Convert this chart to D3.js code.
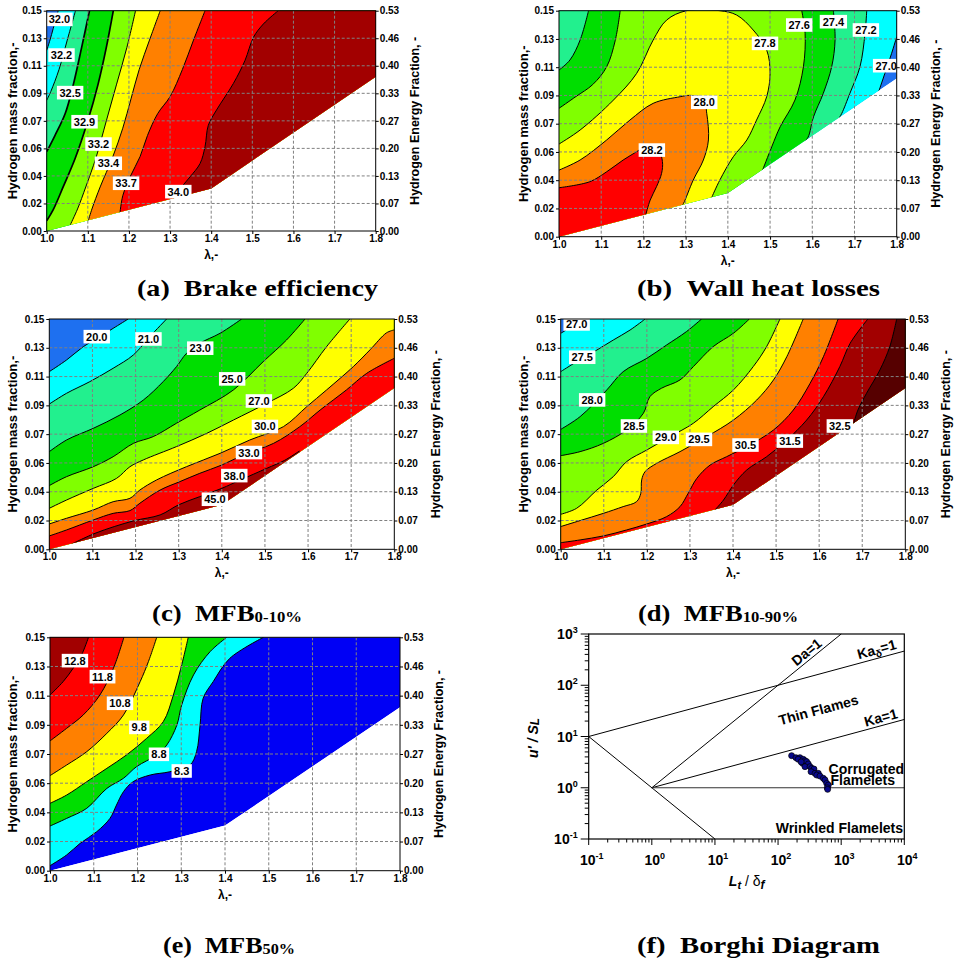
<!DOCTYPE html>
<html>
<head>
<meta charset="utf-8">
<script src="https://cdn.jsdelivr.net/npm/d3@7"></script>
<style>
  body { margin: 0; background: #fff; }
  svg { display: block; }
</style>
</head>
<body>
<svg id="fig" width="954" height="965" font-family='"Liberation Sans", Arial, sans-serif'></svg>
<script>
// ---- shared axis data ----
const lambdaTicks = [1.0, 1.1, 1.2, 1.3, 1.4, 1.5, 1.6, 1.7, 1.8];
const massTickLabels = ['0.00', '0.02', '0.04', '0.06', '0.07', '0.09', '0.11', '0.13', '0.15'];
const energyTickLabels = ['0.00', '0.07', '0.13', '0.20', '0.27', '0.33', '0.40', '0.46', '0.53'];
const lowerEdge = [[1.0, 0.0], [1.4, 0.029], [1.8, 0.105]];

// ---- (a) brake efficiency ----
const effLevels = [32.0, 32.2, 32.5, 32.9, 33.2, 33.4, 33.7, 34.0];
const effLines = [
  [[[1.028, 0.15], [1.016, 0.138], [1.008, 0.13], [1.0, 0.123]]],
  [[[1.07, 0.15], [1.05, 0.13], [1.03, 0.11], [1.01, 0.095], [1.0, 0.089]]],
  [[[1.104, 0.15], [1.085, 0.125], [1.065, 0.10], [1.045, 0.08], [1.02, 0.065], [1.0, 0.054]]],
  [[[1.162, 0.15], [1.145, 0.125], [1.125, 0.10], [1.1, 0.075], [1.07, 0.05], [1.04, 0.03], [1.015, 0.014], [1.0, 0.007]]],
  [[[1.216, 0.15], [1.195, 0.125], [1.17, 0.10], [1.145, 0.075], [1.12, 0.05], [1.095, 0.03], [1.075, 0.015], [1.057, 0.004]]],
  [[[1.276, 0.15], [1.25, 0.13], [1.225, 0.11], [1.205, 0.09], [1.185, 0.07], [1.16, 0.05], [1.13, 0.03], [1.11, 0.015], [1.101, 0.007]]],
  [[[1.385, 0.15], [1.357, 0.13], [1.33, 0.11], [1.30, 0.0915], [1.27, 0.08], [1.245, 0.065], [1.227, 0.0506], [1.203, 0.037], [1.185, 0.024], [1.178, 0.012]]],
  [[[1.563, 0.15], [1.527, 0.141], [1.503, 0.132], [1.482, 0.116], [1.454, 0.1005], [1.413, 0.0824], [1.393, 0.072], [1.385, 0.0574], [1.373, 0.046], [1.349, 0.037], [1.328, 0.030], [1.308, 0.022]]]
];
const effLabelPos = [[1.031, 0.1441], [1.036, 0.1198], [1.057, 0.0942], [1.092, 0.0744], [1.126, 0.0592], [1.15, 0.0461], [1.193, 0.0325], [1.32, 0.0268]];

// ---- (b) wall heat losses ----
const heatLevels = [27.0, 27.2, 27.4, 27.6, 27.8, 28.0, 28.2];
const heatLines = [
  [[[1.8, 0.1327], [1.788, 0.1217], [1.772, 0.1084], [1.757, 0.096]]],
  [[[1.729, 0.15], [1.725, 0.135], [1.713, 0.1128], [1.689, 0.0951], [1.67, 0.0819], [1.662, 0.078]]],
  [[[1.0, 0.1106], [1.026, 0.1173], [1.05, 0.1305], [1.07, 0.15]],
   [[1.65, 0.15], [1.654, 0.1305], [1.646, 0.1128], [1.626, 0.0951], [1.603, 0.0796], [1.59, 0.066], [1.578, 0.062]]],
  [[[1.0, 0.0852], [1.04, 0.093], [1.08, 0.101], [1.113, 0.1128], [1.133, 0.13], [1.145, 0.15]],
   [[1.575, 0.15], [1.583, 0.135], [1.579, 0.1128], [1.559, 0.0907], [1.524, 0.073], [1.504, 0.0597], [1.482, 0.044]]],
  [[[1.0, 0.0615], [1.05, 0.0708], [1.129, 0.0907], [1.184, 0.1084], [1.223, 0.1305], [1.255, 0.1438], [1.302, 0.15], [1.381, 0.15], [1.421, 0.1471], [1.46, 0.1372], [1.492, 0.1239], [1.5, 0.1084], [1.492, 0.0929], [1.468, 0.0774], [1.445, 0.0642], [1.413, 0.0531], [1.381, 0.0376], [1.362, 0.0262]]],
  [[[1.0, 0.0442], [1.05, 0.0509], [1.113, 0.0642], [1.168, 0.0774], [1.223, 0.0885], [1.287, 0.0929], [1.31, 0.0938], [1.342, 0.0918], [1.35, 0.0819], [1.354, 0.0642], [1.342, 0.0509], [1.318, 0.0376], [1.295, 0.0221], [1.29, 0.02]]],
  [[[1.0, 0.0325], [1.073, 0.0365], [1.113, 0.0431], [1.152, 0.0509], [1.184, 0.0564], [1.21, 0.061], [1.235, 0.058], [1.245, 0.05], [1.243, 0.042], [1.231, 0.0332], [1.216, 0.0243], [1.205, 0.014]]]
];
const heatLabelPos = [[1.775, 0.1135], [1.727, 0.1372], [1.65, 0.1427], [1.569, 0.1405], [1.488, 0.1283], [1.344, 0.0892], [1.22, 0.0575]];

// ---- (c) MFB 0-10% ----
const mfb010Levels = [20.0, 21.0, 23.0, 25.0, 27.0, 30.0, 33.0, 38.0];
const mfb010Lines = [
  [[[1.0, 0.1157], [1.04, 0.1233], [1.079, 0.132], [1.117, 0.1385], [1.148, 0.1439], [1.183, 0.15]]],
  [[[1.0, 0.0946], [1.04, 0.1016], [1.094, 0.1092], [1.148, 0.1179], [1.195, 0.1266], [1.233, 0.1385], [1.272, 0.15]]],
  [[[1.0, 0.0636], [1.04, 0.0712], [1.102, 0.0788], [1.164, 0.0875], [1.218, 0.0972], [1.264, 0.1092], [1.295, 0.119], [1.318, 0.1276], [1.349, 0.1342], [1.396, 0.1407], [1.446, 0.15]]],
  [[[1.0, 0.0415], [1.04, 0.0473], [1.102, 0.0538], [1.148, 0.0603], [1.195, 0.069], [1.241, 0.0734], [1.295, 0.0821], [1.349, 0.0907], [1.427, 0.1038], [1.496, 0.1222], [1.55, 0.1363], [1.593, 0.15]]],
  [[[1.0, 0.0267], [1.04, 0.0321], [1.102, 0.0397], [1.156, 0.0462], [1.187, 0.0538], [1.218, 0.0582], [1.295, 0.0669], [1.365, 0.0755], [1.427, 0.0842], [1.504, 0.0951], [1.566, 0.1049], [1.597, 0.1146], [1.643, 0.132], [1.697, 0.15]]],
  [[[1.0, 0.0165], [1.04, 0.0202], [1.102, 0.0256], [1.148, 0.031], [1.187, 0.0332], [1.21, 0.0386], [1.249, 0.0452], [1.318, 0.0538], [1.396, 0.0625], [1.465, 0.0712], [1.543, 0.0799], [1.597, 0.0929], [1.643, 0.1038], [1.705, 0.119], [1.744, 0.13], [1.782, 0.141], [1.8, 0.1429]]],
  [[[1.0, 0.0087], [1.04, 0.0126], [1.102, 0.0191], [1.148, 0.0234], [1.187, 0.0252], [1.21, 0.03], [1.257, 0.0386], [1.303, 0.0441], [1.349, 0.0495], [1.4, 0.0549], [1.458, 0.0625], [1.52, 0.069], [1.581, 0.0799], [1.628, 0.0907], [1.689, 0.1038], [1.736, 0.1146], [1.8, 0.1244]]],
  [[[1.04, 0.0017], [1.106, 0.0104], [1.195, 0.0185], [1.257, 0.0224], [1.3, 0.029], [1.349, 0.0343], [1.4, 0.0397], [1.442, 0.045], [1.504, 0.0527], [1.546, 0.058], [1.58, 0.064]]]
];
const mfb010LabelText = ['20.0', '21.0', '23.0', '25.0', '27.0', '30.0', '33.0', '38.0', '45.0'];
const mfb010LabelPos = [[1.11, 0.1385], [1.23, 0.137], [1.35, 0.131], [1.424, 0.111], [1.486, 0.0966], [1.50, 0.080], [1.463, 0.063], [1.429, 0.048], [1.384, 0.0326]];

// ---- (d) MFB 10-90% ----
const mfb1090Levels = [27.0, 27.5, 28.0, 28.5, 29.0, 29.5, 30.5, 31.5, 32.5];
const mfb1090Lines = [
  [[[1.0, 0.1407], [1.014, 0.1433], [1.033, 0.15]]],
  [[[1.0, 0.1157], [1.037, 0.1222], [1.084, 0.1298], [1.122, 0.1363], [1.161, 0.1428], [1.196, 0.15]]],
  [[[1.0, 0.0781], [1.045, 0.0864], [1.107, 0.1038], [1.145, 0.1157], [1.2, 0.1244], [1.246, 0.1331], [1.292, 0.1418], [1.327, 0.15]]],
  [[[1.0, 0.061], [1.045, 0.0636], [1.099, 0.069], [1.153, 0.0777], [1.192, 0.0886], [1.207, 0.0994], [1.234, 0.1049], [1.277, 0.1103], [1.308, 0.119], [1.354, 0.132], [1.401, 0.1407], [1.438, 0.15]]],
  [[[1.0, 0.0228], [1.037, 0.0267], [1.084, 0.0386], [1.122, 0.0473], [1.153, 0.0571], [1.2, 0.0647], [1.254, 0.0734], [1.308, 0.0821], [1.354, 0.0929], [1.401, 0.1038], [1.447, 0.119], [1.478, 0.132], [1.509, 0.15]]],
  [[[1.0, 0.0148], [1.045, 0.0187], [1.099, 0.0234], [1.145, 0.0278], [1.176, 0.031], [1.186, 0.0365], [1.188, 0.0452], [1.196, 0.0506], [1.223, 0.056], [1.277, 0.0636], [1.339, 0.0734], [1.401, 0.0842], [1.455, 0.0972], [1.494, 0.1103], [1.525, 0.1255], [1.563, 0.15]]],
  [[[1.0, 0.0043], [1.045, 0.0061], [1.099, 0.0087], [1.153, 0.0126], [1.2, 0.0165], [1.246, 0.0213], [1.277, 0.0278], [1.296, 0.0365], [1.316, 0.0462], [1.347, 0.0549], [1.385, 0.0603], [1.432, 0.0669], [1.494, 0.0777], [1.54, 0.0907], [1.579, 0.1081], [1.61, 0.1255], [1.644, 0.15]]],
  [[[1.358, 0.0256], [1.378, 0.0321], [1.401, 0.0419], [1.432, 0.0517], [1.478, 0.0603], [1.525, 0.0712], [1.571, 0.0842], [1.61, 0.0994], [1.648, 0.119], [1.672, 0.1342], [1.713, 0.15]]],
  [[[1.68, 0.082], [1.69, 0.0907], [1.71, 0.1016], [1.741, 0.1168], [1.764, 0.132], [1.78, 0.15]]]
];
const mfb1090LabelPos = [[1.037, 0.1468], [1.05, 0.1251], [1.073, 0.0973], [1.17, 0.0803], [1.244, 0.0729], [1.321, 0.0716], [1.429, 0.0679], [1.532, 0.0705], [1.648, 0.0803]];

// ---- (e) MFB 50% ----
const mfb50Levels = [8.3, 8.8, 9.8, 10.8, 11.8, 12.8];
const mfb50Lines = [
  [[[1.0, 0.0032], [1.038, 0.0101], [1.069, 0.0176], [1.107, 0.0251], [1.137, 0.0336], [1.152, 0.0422], [1.168, 0.0508], [1.19, 0.0572], [1.229, 0.0615], [1.274, 0.0636], [1.32, 0.0679], [1.335, 0.0765], [1.343, 0.0936], [1.35, 0.1108], [1.373, 0.1215], [1.411, 0.1365], [1.488, 0.15]]],
  [[[1.0, 0.0287], [1.038, 0.0336], [1.084, 0.0401], [1.13, 0.0529], [1.168, 0.0594], [1.198, 0.0669], [1.244, 0.0744], [1.267, 0.0808], [1.29, 0.0936], [1.301, 0.1065], [1.328, 0.1258], [1.366, 0.1408], [1.404, 0.15]]],
  [[[1.0, 0.0433], [1.038, 0.0486], [1.084, 0.0572], [1.13, 0.0658], [1.175, 0.0744], [1.221, 0.0851], [1.259, 0.0958], [1.282, 0.1129], [1.301, 0.1322], [1.316, 0.15]]],
  [[[1.0, 0.0611], [1.038, 0.0679], [1.084, 0.0765], [1.13, 0.0883], [1.168, 0.1001], [1.206, 0.1215], [1.225, 0.1344], [1.244, 0.15]]],
  [[[1.0, 0.0834], [1.038, 0.0915], [1.076, 0.1001], [1.114, 0.1129], [1.145, 0.1301], [1.169, 0.15]]],
  [[[1.0, 0.1129], [1.03, 0.1215], [1.053, 0.1301], [1.072, 0.1386], [1.088, 0.15]]]
];
const mfb50LabelPos = [[1.301, 0.0641], [1.249, 0.0748], [1.204, 0.0921], [1.16, 0.1076], [1.12, 0.1247], [1.057, 0.135]];

// ---- (f) Borghi diagram ----
const borghiLines = [
  [[0.1, 10], [10, 0.1]],
  [[0.1, 10], [1e4, 464]],
  [[1, 1], [1000, 1000]],
  [[1, 1], [1e4, 21.5]],
  [[1, 1], [1e4, 1]]
];
const borghiPoints = [
  [164, 4.23], [192, 3.86], [222, 3.86], [208, 3.6], [251, 3.58], [267, 3.37], [245, 2.99], [284, 3.23],
  [301, 2.91], [232, 3.2], [267, 2.58], [321, 2.58], [341, 2.39], [371, 2.32], [333, 2.06], [385, 1.91],
  [434, 1.91], [409, 1.77], [461, 1.69], [521, 1.53], [554, 1.42], [589, 1.22], [626, 1.13], [603, 1.0], [610, 0.93]
];

// ---- colours ----
const C = {
  blue: '#1e70f0', blueDeep: '#0000f5', cyan: '#00ffff', mint: '#22f08e', green: '#00de00',
  lime: '#80ff00', yellow: '#ffff00', orange: '#ff8000', red: '#ff0000', darkred: '#a20000', darker: '#560000'
};
const CORNERS = { TL: [0.9, 0.2], TR: [1.9, 0.2], BR: [1.9, -0.1], BL: [0.9, -0.1] };

const panels = [
  { id: 'a', x0: 46.7, x1: 375.7, y0: 10.7, y1: 231, levels: effLevels, lines: effLines, labelPos: effLabelPos,
    colors: [C.blue, C.cyan, C.mint, C.green, C.lime, C.yellow, C.orange, C.red, C.darkred],
    close: effLevels.map(() => ['BL', 'BR', 'TR']), bold: [2, 3],
    leftTitleX: 17, rightTitleX: 419 },
  { id: 'b', x0: 559, x1: 896.7, y0: 10.7, y1: 236.7, levels: heatLevels, lines: heatLines, labelPos: heatLabelPos,
    colors: [C.blue, C.cyan, C.mint, C.green, C.lime, C.yellow, C.orange, C.red],
    close: [['BL', 'TL', 'TR'], ['BL', 'TL'], ['BL'], ['BL'], ['BL'], ['BL'], ['BL']], bold: [],
    leftTitleX: 528, rightTitleX: 940 },
  { id: 'c', x0: 49.3, x1: 394.3, y0: 319, y1: 549.3, levels: mfb010Levels, lines: mfb010Lines, labelPos: mfb010LabelPos,
    labelText: mfb010LabelText,
    colors: [C.blue, C.cyan, C.mint, C.green, C.lime, C.yellow, C.orange, C.red, C.darkred],
    close: [['TR', 'BR', 'BL'], ['TR', 'BR', 'BL'], ['TR', 'BR', 'BL'], ['TR', 'BR', 'BL'], ['TR', 'BR', 'BL'], ['TR', 'BR', 'BL'], ['TR', 'BR', 'BL'], ['BR', 'BL']], bold: [],
    leftTitleX: 17, rightTitleX: 440 },
  { id: 'd', x0: 560.7, x1: 905.3, y0: 319, y1: 549.3, levels: mfb1090Levels, lines: mfb1090Lines, labelPos: mfb1090LabelPos,
    colors: [C.blue, C.cyan, C.mint, C.green, C.lime, C.yellow, C.orange, C.red, C.darkred, C.darker],
    close: [['TR', 'BR', 'BL'], ['TR', 'BR', 'BL'], ['TR', 'BR', 'BL'], ['TR', 'BR', 'BL'], ['TR', 'BR', 'BL'], ['TR', 'BR', 'BL'], ['TR', 'BR', 'BL'], ['TR', 'BR'], ['TR', 'BR']], bold: [],
    leftTitleX: 528, rightTitleX: 950 },
  { id: 'e', x0: 50, x1: 400, y0: 637.3, y1: 870.7, levels: mfb50Levels, lines: mfb50Lines, labelPos: mfb50LabelPos,
    colors: [C.blueDeep, C.cyan, C.green, C.yellow, C.orange, C.red, C.darkred],
    close: mfb50Levels.map(() => ['TL']), bold: [],
    leftTitleX: 17, rightTitleX: 443 }
];

const captions = [
  { x: 137, y: 296, w: 241, main: '(a)\u00a0\u00a0Brake efficiency' },
  { x: 637, y: 296, w: 243, main: '(b)\u00a0\u00a0Wall heat losses' },
  { x: 152, y: 621, w: 150, main: '(c)\u00a0\u00a0MFB', sub: '0-10%' },
  { x: 638, y: 621, w: 160, main: '(d)\u00a0\u00a0MFB', sub: '10-90%' },
  { x: 163, y: 953, w: 132, main: '(e)\u00a0\u00a0MFB', sub: '50%' },
  { x: 637, y: 953, w: 243, main: '(f)\u00a0\u00a0Borghi Diagram' }
];

const svg = d3.select('#fig');
const defs = svg.append('defs');

function drawContourPanel(p) {
  const x = d3.scaleLinear().domain([1.0, 1.8]).range([p.x0, p.x1]);
  const y = d3.scaleLinear().domain([0, 0.15]).range([p.y1, p.y0]);
  const yTicks = d3.range(9).map(i => i * 0.15 / 8);
  const lin = d3.line().x(d => x(d[0])).y(d => y(d[1]));
  const smooth = d3.line().x(d => x(d[0])).y(d => y(d[1])).curve(d3.curveCatmullRom.alpha(0.5));

  const domainPts = [[1.0, 0.15], [1.8, 0.15]].concat(lowerEdge.slice().reverse());
  defs.append('clipPath').attr('id', 'clip-' + p.id)
    .append('path').attr('d', lin(domainPts) + 'Z');

  const g = svg.append('g');
  const body = g.append('g').attr('clip-path', `url(#clip-${p.id})`);
  body.append('path').attr('d', lin(domainPts) + 'Z').attr('fill', p.colors[0]);

  p.lines.forEach((polys, i) => {
    let d = polys.map((l, j) => { const s = smooth(l); return j ? s.replace(/^M/, 'L') : s; }).join('');
    d += p.close[i].map(k => `L${x(CORNERS[k][0])},${y(CORNERS[k][1])}`).join('') + 'Z';
    body.append('path').attr('d', d).attr('fill', p.colors[i + 1]);
  });
  p.lines.forEach((polys, i) => {
    polys.forEach(l => {
      body.append('path').attr('d', smooth(l)).attr('fill', 'none')
        .attr('stroke', '#000').attr('stroke-width', p.bold.includes(i) ? 1.7 : 1);
    });
  });

  // dashed grid over everything
  const grid = g.append('g').attr('stroke', '#808080').attr('stroke-width', 1).attr('stroke-dasharray', '3,2');
  lambdaTicks.slice(1, -1).forEach(t => grid.append('line')
    .attr('x1', x(t)).attr('x2', x(t)).attr('y1', p.y0).attr('y2', p.y1));
  yTicks.slice(1, -1).forEach(t => grid.append('line')
    .attr('x1', p.x0).attr('x2', p.x1).attr('y1', y(t)).attr('y2', y(t)));

  // contour labels
  const texts = p.labelText || p.levels.map(v => v.toFixed(1));
  p.labelPos.forEach((pos, i) => {
    const lg = g.append('g').attr('transform', `translate(${x(pos[0])},${y(pos[1])})`);
    const r = lg.append('rect').attr('fill', '#fff');
    const t = lg.append('text').attr('text-anchor', 'middle').attr('dy', '0.36em')
      .attr('font-size', 11).attr('font-weight', 'bold').text(texts[i]);
    const bb = t.node().getBBox();
    r.attr('x', -bb.width / 2 - 2.5).attr('y', -6.8).attr('width', bb.width + 5).attr('height', 13.6);
  });

  g.append('rect').attr('x', p.x0).attr('y', p.y0).attr('width', p.x1 - p.x0).attr('height', p.y1 - p.y0)
    .attr('fill', 'none').attr('stroke', '#000').attr('stroke-width', 1);

  const axisFont = sel => sel.selectAll('text').attr('font-size', 10).attr('font-weight', 'bold')
    .attr('font-family', '"Liberation Sans", Arial, sans-serif').attr('fill', '#000');
  const axB = g.append('g').attr('transform', `translate(0,${p.y1})`)
    .call(d3.axisBottom(x).tickValues(lambdaTicks).tickFormat(d3.format('.1f')).tickSize(3).tickPadding(1));
  axB.call(axisFont); axB.select('.domain').remove();
  const axL = g.append('g').attr('transform', `translate(${p.x0},0)`)
    .call(d3.axisLeft(y).tickValues(yTicks).tickFormat((d, i) => massTickLabels[i]).tickSize(3).tickPadding(2));
  axL.call(axisFont); axL.select('.domain').remove();
  const axR = g.append('g').attr('transform', `translate(${p.x1},0)`)
    .call(d3.axisRight(y).tickValues(yTicks).tickFormat((d, i) => energyTickLabels[i]).tickSize(3).tickPadding(1));
  axR.call(axisFont); axR.select('.domain').remove();

  const cy = (p.y0 + p.y1) / 2;
  g.append('text').attr('transform', `translate(${p.leftTitleX},${cy}) rotate(-90)`).attr('text-anchor', 'middle')
    .attr('font-size', 13).attr('font-weight', 'bold').text('Hydrogen mass fraction,-');
  g.append('text').attr('transform', `translate(${p.rightTitleX},${cy}) rotate(-90)`).attr('text-anchor', 'middle')
    .attr('font-size', 12.5).attr('font-weight', 'bold').text('Hydrogen Energy Fraction, -');
  g.append('text').attr('x', (p.x0 + p.x1) / 2).attr('y', p.y1 + 28).attr('text-anchor', 'middle')
    .attr('font-size', 12).attr('font-weight', 'bold').text('\u03bb,-');
}

panels.forEach(drawContourPanel);

// ---- Borghi diagram ----
(function drawBorghi() {
  const x0 = 588.7, x1 = 904.3, y0 = 634, y1 = 839;
  const x = d3.scaleLog().domain([0.1, 1e4]).range([x0, x1]);
  const y = d3.scaleLog().domain([0.1, 1e3]).range([y1, y0]);
  const g = svg.append('g');
  const line = d3.line().x(d => x(d[0])).y(d => y(d[1]));

  borghiLines.forEach((l, i) => g.append('path').attr('d', line(l)).attr('fill', 'none')
    .attr('stroke', i === 4 ? '#333' : '#000').attr('stroke-width', 1));

  g.selectAll('circle.pt').data(borghiPoints).enter().append('circle')
    .attr('cx', d => x(d[0])).attr('cy', d => y(d[1])).attr('r', 3)
    .attr('fill', '#0a0a8c').attr('stroke', '#000').attr('stroke-width', 0.7);

  g.append('rect').attr('x', x0).attr('y', y0).attr('width', x1 - x0).attr('height', y1 - y0)
    .attr('fill', 'none').attr('stroke', '#000').attr('stroke-width', 1.2);

  const xMajor = [-1, 0, 1, 2, 3, 4], yMajor = [-1, 0, 1, 2, 3];
  const minors = exps => exps.slice(0, -1).flatMap(e => d3.range(2, 10).map(k => k * Math.pow(10, e)));
  const ticks = g.append('g').attr('stroke', '#000').attr('stroke-width', 1);
  xMajor.forEach(e => ticks.append('line').attr('x1', x(Math.pow(10, e))).attr('x2', x(Math.pow(10, e))).attr('y1', y1).attr('y2', y1 + 6));
  minors(xMajor).forEach(v => ticks.append('line').attr('x1', x(v)).attr('x2', x(v)).attr('y1', y1).attr('y2', y1 + 3.5));
  yMajor.forEach(e => ticks.append('line').attr('y1', y(Math.pow(10, e))).attr('y2', y(Math.pow(10, e))).attr('x1', x0).attr('x2', x0 - 8));
  minors(yMajor).forEach(v => ticks.append('line').attr('y1', y(v)).attr('y2', y(v)).attr('x1', x0).attr('x2', x0 - 4));

  const pow = (sel, e) => {
    sel.append('tspan').text('10');
    sel.append('tspan').attr('font-size', 9).attr('dy', -6).text(e);
  };
  xMajor.forEach(e => g.append('text').attr('x', x(Math.pow(10, e)) + 3).attr('y', y1 + 26).attr('text-anchor', 'middle')
    .attr('font-size', 14).attr('font-weight', 'bold').call(pow, e));
  yMajor.forEach(e => g.append('text').attr('x', x0 - 11).attr('y', y(Math.pow(10, e)) + 5).attr('text-anchor', 'end')
    .attr('font-size', 14).attr('font-weight', 'bold').call(pow, e));

  // axis titles
  const xt = g.append('text').attr('x', 746.7).attr('y', 886).attr('text-anchor', 'middle')
    .attr('font-size', 14).attr('font-weight', 'bold').attr('font-style', 'italic');
  xt.append('tspan').text('L');
  xt.append('tspan').attr('font-size', 11).attr('dy', 3).text('t');
  xt.append('tspan').attr('dy', -3).attr('font-style', 'normal').attr('font-weight', 'normal').text(' / \u03b4');
  xt.append('tspan').attr('font-size', 12).attr('dy', 3).text('f');
  const yt = g.append('text').attr('transform', 'translate(538,738) rotate(-90)').attr('text-anchor', 'middle')
    .attr('font-size', 14).attr('font-weight', 'bold').attr('font-style', 'italic');
  yt.append('tspan').text("u' / S");
  yt.append('tspan').attr('font-size', 12).attr('dy', 1).text('L');

  // regime annotations
  const angle = (a, b) => Math.atan2(y(a[1]) - y(b[1]), x(b[0]) - x(a[0])) * 180 / Math.PI;
  const note = (pt, rot, txt, anchor) => g.append('text')
    .attr('transform', `translate(${x(pt[0])},${y(pt[1])}) rotate(${-rot})`)
    .attr('text-anchor', anchor || 'middle').attr('font-size', 14).attr('font-weight', 'bold');
  note([Math.pow(10, 2.53), Math.pow(10, 2.53)], angle([1, 1], [1000, 1000])).attr('dy', -3).text('Da=1');
  const kd = note([Math.pow(10, 3.6), Math.pow(10, 1 + 4.6 / 3)], angle([0.1, 10], [1e4, 464])).attr('dy', -4);
  kd.append('tspan').text('Ka');
  kd.append('tspan').attr('font-size', 10).attr('dy', 3).text('\u03b4');
  kd.append('tspan').attr('dy', -3).text('=1');
  note([Math.pow(10, 3.66), Math.pow(10, 3.66 / 3)], angle([1, 1], [1e4, 21.5])).attr('dy', -3).text('Ka=1');
  note([Math.pow(10, 2.64), Math.pow(10, 1.52)], 15).attr('dy', 5).text('Thin Flames');
  note([Math.pow(10, 2.80), Math.pow(10, 0.27)], 0, null, 'start').text('Corrugated');
  note([Math.pow(10, 2.83), Math.pow(10, 0.0)], 0, null, 'start').attr('dy', -3).text('Flamelets');
  note([Math.pow(10, 3.98), Math.pow(10, -0.88)], 0, null, 'end').text('Wrinkled Flamelets');
})();

// ---- captions ----
captions.forEach(c => {
  const t = svg.append('text').attr('x', c.x).attr('y', c.y).attr('textLength', c.w).attr('lengthAdjust', 'spacingAndGlyphs')
    .attr('font-family', '"Liberation Serif", "DejaVu Serif", serif').attr('font-weight', 'bold').attr('font-size', 24);
  t.append('tspan').text(c.main);
  if (c.sub) t.append('tspan').attr('font-size', 15).attr('dy', 1).text(c.sub);
});
</script>
</body>
</html>
